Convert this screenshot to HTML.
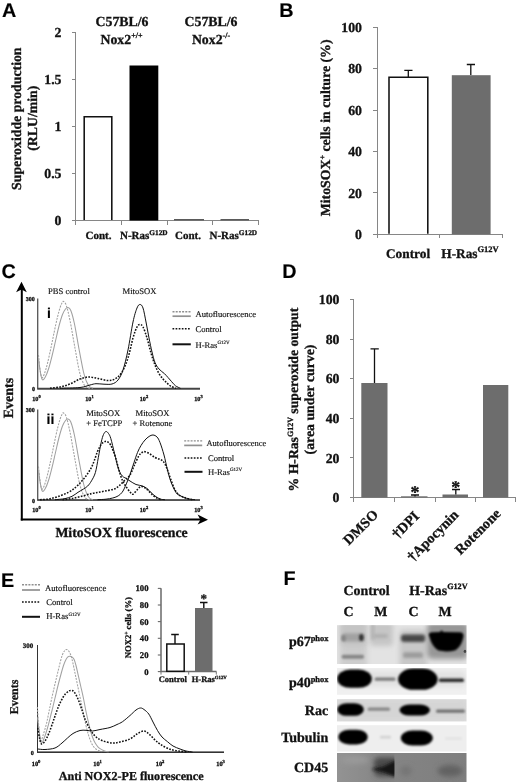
<!DOCTYPE html>
<html lang="en"><head><meta charset="utf-8"><title>Figure</title>
<style>
html,body{margin:0;padding:0;background:#fff;}
svg{display:block;filter:grayscale(1);will-change:transform;}
text{font-family:"Liberation Serif","Times New Roman",serif;fill:#111;text-rendering:geometricPrecision;stroke:#111;stroke-width:0.15px;}
.b{font-weight:bold;stroke:#111;stroke-width:0.3px;paint-order:stroke;}
.pl{font-family:"Liberation Sans",Arial,sans-serif;font-weight:bold;font-size:19.8px;fill:#000;}
.ax{stroke:#868686;stroke-width:1;fill:none;shape-rendering:crispEdges;}
.g{stroke:#a0a0a0;stroke-width:1.05;fill:none;}
.gd{stroke:#a0a0a0;stroke-width:1.05;fill:none;stroke-dasharray:2 1.2;}
.k{stroke:#111;stroke-width:1;fill:none;}
.kd{stroke:#111;stroke-width:1.55;fill:none;stroke-dasharray:1.7 1.4;}
</style></head><body>
<svg width="520" height="783" viewBox="0 0 520 783">
<defs>
<filter id="b1" x="-30%" y="-60%" width="160%" height="220%"><feGaussianBlur stdDeviation="1.1"/></filter>
<filter id="b2" x="-30%" y="-80%" width="160%" height="260%"><feGaussianBlur stdDeviation="1.8"/></filter>
<filter id="b3" x="-30%" y="-80%" width="160%" height="260%"><feGaussianBlur stdDeviation="2.6"/></filter>
<filter id="b09" x="-20%" y="-40%" width="140%" height="180%"><feGaussianBlur stdDeviation="0.9"/></filter>
<filter id="b15" x="-30%" y="-60%" width="160%" height="220%"><feGaussianBlur stdDeviation="1.5"/></filter>
<filter id="b05" x="-10%" y="-10%" width="120%" height="120%"><feGaussianBlur stdDeviation="0.5"/></filter>
</defs>
<rect x="0" y="0" width="520" height="783" fill="#fff"/>

<g id="panelA">
<text class="pl" x="1.9" y="16.9">A</text>
<path class="ax" d="M75.5,32.5 V220.5 H258.5"/>
<path class="ax" d="M71.5,220.5 H75.5"/>
<text class="b" x="61.5" y="225.1" font-size="13.8" text-anchor="end">0</text>
<path class="ax" d="M71.5,173.5 H75.5"/>
<text class="b" x="61.5" y="178.1" font-size="13.8" text-anchor="end">0.5</text>
<path class="ax" d="M71.5,126.5 H75.5"/>
<text class="b" x="61.5" y="131.1" font-size="13.8" text-anchor="end">1</text>
<path class="ax" d="M71.5,79.5 H75.5"/>
<text class="b" x="61.5" y="84.1" font-size="13.8" text-anchor="end">1.5</text>
<path class="ax" d="M71.5,32.5 H75.5"/>
<text class="b" x="61.5" y="37.1" font-size="13.8" text-anchor="end">2</text>
<path class="ax" d="M75.5,220.5 V224.5"/>
<path class="ax" d="M121.5,220.5 V224.5"/>
<path class="ax" d="M167,220.5 V224.5"/>
<path class="ax" d="M212.5,220.5 V224.5"/>
<path class="ax" d="M258.5,220.5 V224.5"/>
<path d="M84.2,220 V116.7 H111.8 V220" fill="#fff" stroke="#111" stroke-width="1.55"/>
<rect x="129.5" y="65.5" width="28.8" height="155" fill="#000"/>
<rect x="174" y="219" width="30" height="1.5" fill="#5a5a5a"/>
<rect x="220.5" y="219" width="28.5" height="1.5" fill="#5a5a5a"/>
<text class="b" x="122" y="26.3" font-size="13.8" text-anchor="middle">C57BL/6</text>
<text class="b" x="121.5" y="43.8" font-size="13.8" text-anchor="middle">Nox2<tspan font-size="8" dy="-5.5">+/+</tspan></text>
<text class="b" x="211" y="26.3" font-size="13.8" text-anchor="middle">C57BL/6</text>
<text class="b" x="211" y="43.8" font-size="13.8" text-anchor="middle">Nox2<tspan font-size="8" dy="-5.5">-/-</tspan></text>
<text class="b" font-size="11" x="85.5" y="239">Cont.</text>
<text class="b" font-size="11" x="120" y="239">N-Ras<tspan font-size="7.3" dy="-4.4">G12D</tspan></text>
<text class="b" font-size="11" x="175" y="239">Cont.</text>
<text class="b" font-size="11" x="209.5" y="239">N-Ras<tspan font-size="7.3" dy="-4.4">G12D</tspan></text>
<text class="b" font-size="13.8" text-anchor="middle" transform="translate(20.7,118.7) rotate(-90)">Superoxidde production</text>
<text class="b" font-size="13.8" text-anchor="middle" transform="translate(36.8,118.2) rotate(-90)">(RLU/min)</text>
</g>
<g id="panelB">
<text class="pl" x="279.3" y="16.8">B</text>
<path class="ax" d="M377,27 V234.3 H502.5"/>
<path class="ax" d="M373,234.3 H377"/>
<text class="b" x="362" y="238.9" font-size="13.8" text-anchor="end">0</text>
<path class="ax" d="M373,192.9 H377"/>
<text class="b" x="362" y="197.5" font-size="13.8" text-anchor="end">20</text>
<path class="ax" d="M373,151.4 H377"/>
<text class="b" x="362" y="156.0" font-size="13.8" text-anchor="end">40</text>
<path class="ax" d="M373,110.0 H377"/>
<text class="b" x="362" y="114.5" font-size="13.8" text-anchor="end">60</text>
<path class="ax" d="M373,68.5 H377"/>
<text class="b" x="362" y="73.1" font-size="13.8" text-anchor="end">80</text>
<path class="ax" d="M373,27.1 H377"/>
<text class="b" x="362" y="31.7" font-size="13.8" text-anchor="end">100</text>
<path class="ax" d="M377,234.3 V238.3"/>
<path class="ax" d="M439.5,234.3 V238.3"/>
<path class="ax" d="M502.5,234.3 V238.3"/>
<path d="M389,233.8 V77.2 H427.8 V233.8" fill="#fff" stroke="#111" stroke-width="1.55"/>
<path class="k" d="M408.3,77 V70.3 M404.3,70.3 H412.5" style="stroke-width:1.3"/>
<rect x="451.8" y="75.2" width="38.8" height="159.1" fill="#6d6d6d"/>
<path class="k" d="M470.8,75 V64.5 M466.8,64.5 H475" style="stroke-width:1.3"/>
<text class="b" font-size="13.3" x="386" y="257.6">Control</text>
<text class="b" font-size="13.3" x="441.3" y="257.6">H-Ras<tspan font-size="8.5" dy="-5.2">G12V</tspan></text>
<text class="b" font-size="13.8" text-anchor="middle" transform="translate(330.3,127.9) rotate(-90)">MitoSOX<tspan font-size="8" dy="-5">+</tspan><tspan dy="5"> cells in culture (%)</tspan></text>
</g>
<g id="panelC">
<text class="pl" x="1.4" y="278.2">C</text>
<path d="M21.8,520.5 V289" stroke="#000" stroke-width="2" fill="none"/>
<path d="M21.5,281.7 L26.8,292.2 L21.5,289.4 L16.1,292.2 Z" fill="#000"/>
<path d="M20.8,519.5 H201" stroke="#000" stroke-width="2.2" fill="none"/>
<path d="M208,519.7 L197.6,514.6 L200.4,519.7 L197.6,524.6 Z" fill="#000"/>
<text class="b" font-size="14" text-anchor="middle" transform="translate(12.9,398) rotate(-90)">Events</text>
<text class="b" font-size="13.75" x="55.4" y="536.9">MitoSOX fluorescence</text>
<path d="M37.7,298.5 V388.8 H200" stroke="#555" stroke-width="1.3" fill="none"/>
<path d="M37.5,388.6 H200" stroke="#444" stroke-width="1.6" fill="none"/>
<path class="g" d="M38.70,360.00 C38.92,361.67 39.42,366.75 40.00,370.00 C40.58,373.25 41.32,378.33 42.20,379.50 C43.08,380.67 44.25,378.75 45.30,377.00 C46.35,375.25 47.38,372.50 48.50,369.00 C49.62,365.50 50.83,360.67 52.00,356.00 C53.17,351.33 54.33,346.00 55.50,341.00 C56.67,336.00 57.83,330.42 59.00,326.00 C60.17,321.58 61.42,317.33 62.50,314.50 C63.58,311.67 64.62,310.17 65.50,309.00 C66.38,307.83 66.92,307.25 67.80,307.50 C68.68,307.75 69.68,307.75 70.80,310.50 C71.92,313.25 73.13,317.58 74.50,324.00 C75.87,330.42 77.50,341.00 79.00,349.00 C80.50,357.00 82.25,366.58 83.50,372.00 C84.75,377.42 85.50,379.08 86.50,381.50 C87.50,383.92 88.42,385.37 89.50,386.50 C90.58,387.63 92.42,388.00 93.00,388.30"/>
<path class="gd" d="M38.50,355.00 C38.70,357.00 39.17,363.25 39.70,367.00 C40.23,370.75 40.93,376.33 41.70,377.50 C42.47,378.67 43.37,376.25 44.30,374.00 C45.23,371.75 46.23,368.17 47.30,364.00 C48.37,359.83 49.58,354.17 50.70,349.00 C51.82,343.83 52.87,338.33 54.00,333.00 C55.13,327.67 56.45,321.33 57.50,317.00 C58.55,312.67 59.50,309.42 60.30,307.00 C61.10,304.58 61.75,303.42 62.30,302.50 C62.85,301.58 62.93,301.00 63.60,301.50 C64.27,302.00 65.23,302.33 66.30,305.50 C67.37,308.67 68.58,313.58 70.00,320.50 C71.42,327.42 73.25,338.58 74.80,347.00 C76.35,355.42 77.93,365.08 79.30,371.00 C80.67,376.92 81.88,379.83 83.00,382.50 C84.12,385.17 84.83,386.03 86.00,387.00 C87.17,387.97 89.33,388.08 90.00,388.30"/>
<path class="kd" d="M50.00,388.30 C51.67,388.08 56.67,387.72 60.00,387.00 C63.33,386.28 66.67,385.33 70.00,384.00 C73.33,382.67 76.88,380.17 80.00,379.00 C83.12,377.83 85.75,377.08 88.75,377.00 C91.75,376.92 94.88,377.92 98.00,378.50 C101.12,379.08 104.67,380.42 107.50,380.50 C110.33,380.58 112.58,380.42 115.00,379.00 C117.42,377.58 119.83,375.50 122.00,372.00 C124.17,368.50 126.17,363.67 128.00,358.00 C129.83,352.33 131.50,343.17 133.00,338.00 C134.50,332.83 135.83,329.25 137.00,327.00 C138.17,324.75 139.00,324.50 140.00,324.50 C141.00,324.50 141.83,324.75 143.00,327.00 C144.17,329.25 145.67,333.67 147.00,338.00 C148.33,342.33 149.67,348.50 151.00,353.00 C152.33,357.50 153.67,361.58 155.00,365.00 C156.33,368.42 157.67,371.17 159.00,373.50 C160.33,375.83 161.67,377.42 163.00,379.00 C164.33,380.58 165.67,381.78 167.00,383.00 C168.33,384.22 169.50,385.42 171.00,386.30 C172.50,387.18 175.17,387.97 176.00,388.30"/>
<path class="k" d="M60.00,388.30 C63.33,388.17 75.00,388.05 80.00,387.50 C85.00,386.95 87.33,385.63 90.00,385.00 C92.67,384.37 93.67,383.83 96.00,383.70 C98.33,383.57 101.33,384.15 104.00,384.20 C106.67,384.25 109.67,384.70 112.00,384.00 C114.33,383.30 116.17,382.33 118.00,380.00 C119.83,377.67 121.33,375.00 123.00,370.00 C124.67,365.00 126.33,358.00 128.00,350.00 C129.67,342.00 131.50,329.00 133.00,322.00 C134.50,315.00 135.83,310.92 137.00,308.00 C138.17,305.08 139.00,304.50 140.00,304.50 C141.00,304.50 142.00,305.08 143.00,308.00 C144.00,310.92 145.00,317.00 146.00,322.00 C147.00,327.00 148.00,333.00 149.00,338.00 C150.00,343.00 151.00,347.92 152.00,352.00 C153.00,356.08 153.83,359.67 155.00,362.50 C156.17,365.33 157.42,367.13 159.00,369.00 C160.58,370.87 163.00,372.28 164.50,373.70 C166.00,375.12 166.83,376.20 168.00,377.50 C169.17,378.80 170.25,380.12 171.50,381.50 C172.75,382.88 174.00,384.67 175.50,385.80 C177.00,386.93 179.67,387.88 180.50,388.30"/>
<text class="b" font-size="6" x="25.7" y="301">300</text>
<text class="b" font-size="6" x="32" y="391">0</text>
<text class="b" font-size="6.2" x="32.2" y="400.8">10<tspan font-size="4.5" dy="-2.6">0</tspan></text>
<text class="b" font-size="6.2" x="85.2" y="400.8">10<tspan font-size="4.5" dy="-2.6">1</tspan></text>
<text class="b" font-size="6.2" x="139.7" y="400.8">10<tspan font-size="4.5" dy="-2.6">2</tspan></text>
<text class="b" font-size="6.2" x="194.2" y="400.8">10<tspan font-size="4.5" dy="-2.6">3</tspan></text>
<text class="pl" style="font-size:14px" x="47" y="317.7">i</text>
<text font-size="8.6" x="48" y="293.8">PBS control</text>
<text font-size="8.6" x="122.5" y="293.8">MitoSOX</text>
<path class="gd" d="M172.5,311.7 H190.8" style="stroke:#8f8f8f;stroke-width:1.4"/>
<path class="g" d="M172.5,316.2 H190.8" style="stroke-width:1.7;stroke:#919191"/>
<path class="kd" d="M172.5,328.8 H190.8"/>
<path class="k" d="M172.5,344.3 H190.8" style="stroke-width:2"/>
<text font-size="8.6" x="195.5" y="316.5">Autofluorescence</text>
<text font-size="8.6" x="195.5" y="331.8">Control</text>
<text font-size="8.6" x="195.5" y="347.5">H-Ras<tspan font-size="5" dy="-3.6">G12V</tspan></text>
<path d="M37.7,409.5 V500.2 H200" stroke="#555" stroke-width="1.3" fill="none"/>
<path d="M37.5,500 H200" stroke="#444" stroke-width="1.6" fill="none"/>
<path class="g" d="M38.70,471.50 C38.92,473.17 39.42,478.25 40.00,481.50 C40.58,484.75 41.32,489.83 42.20,491.00 C43.08,492.17 44.25,490.25 45.30,488.50 C46.35,486.75 47.38,484.00 48.50,480.50 C49.62,477.00 50.83,472.17 52.00,467.50 C53.17,462.83 54.33,457.50 55.50,452.50 C56.67,447.50 57.83,441.92 59.00,437.50 C60.17,433.08 61.42,428.83 62.50,426.00 C63.58,423.17 64.62,421.67 65.50,420.50 C66.38,419.33 66.92,418.75 67.80,419.00 C68.68,419.25 69.68,419.25 70.80,422.00 C71.92,424.75 73.13,429.08 74.50,435.50 C75.87,441.92 77.50,452.50 79.00,460.50 C80.50,468.50 82.25,478.08 83.50,483.50 C84.75,488.92 85.50,490.58 86.50,493.00 C87.50,495.42 88.42,496.87 89.50,498.00 C90.58,499.13 92.42,499.50 93.00,499.80"/>
<path class="gd" d="M38.50,466.50 C38.70,468.50 39.17,474.75 39.70,478.50 C40.23,482.25 40.93,487.83 41.70,489.00 C42.47,490.17 43.37,487.75 44.30,485.50 C45.23,483.25 46.23,479.67 47.30,475.50 C48.37,471.33 49.58,465.67 50.70,460.50 C51.82,455.33 52.87,449.83 54.00,444.50 C55.13,439.17 56.45,432.83 57.50,428.50 C58.55,424.17 59.50,420.92 60.30,418.50 C61.10,416.08 61.75,414.92 62.30,414.00 C62.85,413.08 62.93,412.50 63.60,413.00 C64.27,413.50 65.23,413.83 66.30,417.00 C67.37,420.17 68.58,425.08 70.00,432.00 C71.42,438.92 73.25,450.08 74.80,458.50 C76.35,466.92 77.93,476.58 79.30,482.50 C80.67,488.42 81.88,491.33 83.00,494.00 C84.12,496.67 84.83,497.53 86.00,498.50 C87.17,499.47 89.33,499.58 90.00,499.80"/>
<path class="kd" d="M40.00,499.70 C41.50,499.58 46.00,499.53 49.00,499.00 C52.00,498.47 54.75,497.62 58.00,496.50 C61.25,495.38 65.50,493.88 68.50,492.30 C71.50,490.72 73.75,488.92 76.00,487.00 C78.25,485.08 80.17,482.88 82.00,480.80 C83.83,478.72 85.42,476.75 87.00,474.50 C88.58,472.25 90.25,469.72 91.50,467.30 C92.75,464.88 93.53,462.55 94.50,460.00 C95.47,457.45 96.38,454.25 97.30,452.00 C98.22,449.75 99.13,448.00 100.00,446.50 C100.87,445.00 101.50,443.87 102.50,443.00 C103.50,442.13 105.00,441.38 106.00,441.30 C107.00,441.22 107.70,441.85 108.50,442.50 C109.30,443.15 110.05,443.87 110.80,445.20 C111.55,446.53 112.20,448.42 113.00,450.50 C113.80,452.58 114.77,455.03 115.60,457.70 C116.43,460.37 117.20,463.62 118.00,466.50 C118.80,469.38 119.57,472.50 120.40,475.00 C121.23,477.50 122.07,479.58 123.00,481.50 C123.93,483.42 124.83,484.75 126.00,486.50 C127.17,488.25 128.83,490.72 130.00,492.00 C131.17,493.28 131.83,494.53 133.00,494.20 C134.17,493.87 135.67,491.28 137.00,490.00 C138.33,488.72 139.50,486.75 141.00,486.50 C142.50,486.25 144.08,487.08 146.00,488.50 C147.92,489.92 150.67,493.42 152.50,495.00 C154.33,496.58 155.58,497.22 157.00,498.00 C158.42,498.78 160.33,499.42 161.00,499.70"/>
<path class="k" d="M55.00,499.70 C56.67,499.52 62.17,499.17 65.00,498.60 C67.83,498.03 69.83,497.35 72.00,496.30 C74.17,495.25 76.08,493.52 78.00,492.30 C79.92,491.08 81.88,490.05 83.50,489.00 C85.12,487.95 86.37,487.37 87.70,486.00 C89.03,484.63 90.22,483.05 91.50,480.80 C92.78,478.55 94.27,476.35 95.40,472.50 C96.53,468.65 97.33,462.73 98.30,457.70 C99.27,452.67 100.33,446.17 101.20,442.30 C102.07,438.43 102.70,436.30 103.50,434.50 C104.30,432.70 105.17,431.67 106.00,431.50 C106.83,431.33 107.70,432.33 108.50,433.50 C109.30,434.67 109.78,435.12 110.80,438.50 C111.82,441.88 113.32,448.72 114.60,453.80 C115.88,458.88 117.22,465.30 118.50,469.00 C119.78,472.70 121.05,474.45 122.30,476.00 C123.55,477.55 124.72,477.47 126.00,478.30 C127.28,479.13 128.33,479.97 130.00,481.00 C131.67,482.03 133.92,483.67 136.00,484.50 C138.08,485.33 140.67,485.33 142.50,486.00 C144.33,486.67 145.58,487.42 147.00,488.50 C148.42,489.58 149.67,491.25 151.00,492.50 C152.33,493.75 153.50,494.92 155.00,496.00 C156.50,497.08 158.33,498.38 160.00,499.00 C161.67,499.62 164.17,499.58 165.00,499.70"/>
<path class="kd" d="M62.50,499.70 C64.08,499.50 68.67,499.12 72.00,498.50 C75.33,497.88 79.17,496.83 82.50,496.00 C85.83,495.17 89.08,494.17 92.00,493.50 C94.92,492.83 97.33,492.50 100.00,492.00 C102.67,491.50 105.50,491.05 108.00,490.50 C110.50,489.95 113.00,489.62 115.00,488.70 C117.00,487.78 118.33,486.45 120.00,485.00 C121.67,483.55 123.33,481.67 125.00,480.00 C126.67,478.33 128.50,477.33 130.00,475.00 C131.50,472.67 132.54,469.17 134.00,466.00 C135.46,462.83 137.42,458.25 138.75,456.00 C140.08,453.75 140.96,453.22 142.00,452.50 C143.04,451.78 143.67,451.45 145.00,451.70 C146.33,451.95 148.33,453.03 150.00,454.00 C151.67,454.97 153.50,456.67 155.00,457.50 C156.50,458.33 157.75,458.47 159.00,459.00 C160.25,459.53 161.50,459.87 162.50,460.70 C163.50,461.53 164.17,462.45 165.00,464.00 C165.83,465.55 166.50,467.33 167.50,470.00 C168.50,472.67 169.75,476.67 171.00,480.00 C172.25,483.33 173.67,487.50 175.00,490.00 C176.33,492.50 177.75,493.88 179.00,495.00 C180.25,496.12 181.17,496.12 182.50,496.70 C183.83,497.28 185.33,498.00 187.00,498.50 C188.67,499.00 191.58,499.50 192.50,499.70"/>
<path class="k" d="M97.50,499.70 C98.92,499.62 103.47,499.48 106.00,499.20 C108.53,498.92 110.87,498.45 112.70,498.00 C114.53,497.55 115.72,497.13 117.00,496.50 C118.28,495.87 119.40,495.12 120.40,494.20 C121.40,493.28 122.20,492.28 123.00,491.00 C123.80,489.72 124.45,488.17 125.20,486.50 C125.95,484.83 126.70,483.00 127.50,481.00 C128.30,479.00 128.92,477.58 130.00,474.50 C131.08,471.42 132.75,466.17 134.00,462.50 C135.25,458.83 136.33,455.33 137.50,452.50 C138.67,449.67 139.75,447.58 141.00,445.50 C142.25,443.42 143.67,441.50 145.00,440.00 C146.33,438.50 147.67,437.33 149.00,436.50 C150.33,435.67 151.67,434.92 153.00,435.00 C154.33,435.08 155.83,435.75 157.00,437.00 C158.17,438.25 158.83,439.50 160.00,442.50 C161.17,445.50 162.75,450.42 164.00,455.00 C165.25,459.58 166.33,465.50 167.50,470.00 C168.67,474.50 169.58,478.25 171.00,482.00 C172.42,485.75 174.50,490.25 176.00,492.50 C177.50,494.75 178.67,494.67 180.00,495.50 C181.33,496.33 182.50,496.92 184.00,497.50 C185.50,498.08 187.17,498.63 189.00,499.00 C190.83,499.37 194.00,499.58 195.00,499.70"/>
<text class="b" font-size="6" x="25.7" y="412">300</text>
<text class="b" font-size="6" x="32" y="502.6">0</text>
<text class="b" font-size="6.2" x="32.2" y="511.8">10<tspan font-size="4.5" dy="-2.6">0</tspan></text>
<text class="b" font-size="6.2" x="85.2" y="511.8">10<tspan font-size="4.5" dy="-2.6">1</tspan></text>
<text class="b" font-size="6.2" x="139.7" y="511.8">10<tspan font-size="4.5" dy="-2.6">2</tspan></text>
<text class="b" font-size="6.2" x="194.2" y="511.8">10<tspan font-size="4.5" dy="-2.6">3</tspan></text>
<text class="pl" style="font-size:14px" x="46.6" y="423.8">ii</text>
<text font-size="8.6" x="86.2" y="416.3">MitoSOX</text>
<text font-size="8.6" x="86.2" y="425.8">+ FeTCPP</text>
<text font-size="8.6" x="135.5" y="416.3">MitoSOX</text>
<text font-size="8.6" x="132.5" y="425.8">+ Rotenone</text>
<path class="gd" d="M184.2,440.9 H202.2" style="stroke:#8f8f8f;stroke-width:1.4"/>
<path class="g" d="M184.2,445.4 H202.2" style="stroke-width:1.7;stroke:#919191"/>
<path class="kd" d="M184.5,458 H202.5"/>
<path class="k" d="M184.5,471.8 H202.5" style="stroke-width:2"/>
<text font-size="8.5" x="206.4" y="445.8">Autofluorescence</text>
<text font-size="8.6" x="208" y="460.8">Control</text>
<text font-size="8.6" x="208" y="474.5">H-Ras<tspan font-size="5" dy="-3.6">G12V</tspan></text>
</g>
<g id="panelD">
<text class="pl" x="282.3" y="278.1">D</text>
<path class="ax" d="M353.5,299.5 V497.5 H515.5"/>
<path class="ax" d="M349.5,497.5 H353.5"/>
<text class="b" x="339.5" y="502.1" font-size="13.8" text-anchor="end">0</text>
<path class="ax" d="M349.5,457.9 H353.5"/>
<text class="b" x="339.5" y="462.5" font-size="13.8" text-anchor="end">20</text>
<path class="ax" d="M349.5,418.3 H353.5"/>
<text class="b" x="339.5" y="422.9" font-size="13.8" text-anchor="end">40</text>
<path class="ax" d="M349.5,378.7 H353.5"/>
<text class="b" x="339.5" y="383.3" font-size="13.8" text-anchor="end">60</text>
<path class="ax" d="M349.5,339.1 H353.5"/>
<text class="b" x="339.5" y="343.7" font-size="13.8" text-anchor="end">80</text>
<path class="ax" d="M349.5,299.5 H353.5"/>
<text class="b" x="339.5" y="304.1" font-size="13.8" text-anchor="end">100</text>
<path class="ax" d="M353.5,497.5 V501.5"/>
<path class="ax" d="M394.5,497.5 V501.5"/>
<path class="ax" d="M435,497.5 V501.5"/>
<path class="ax" d="M475.5,497.5 V501.5"/>
<path class="ax" d="M515.5,497.5 V501.5"/>
<rect x="361.3" y="383" width="26.2" height="114.5" fill="#6d6d6d"/>
<path class="k" d="M374.5,383 V348.8 M370.5,348.8 H378.8" style="stroke-width:1.3"/>
<rect x="401" y="496.3" width="26.5" height="1.2" fill="#6d6d6d"/>
<path class="k" d="M415,496.5 V495 M411,495 H419" style="stroke-width:1.3"/>
<rect x="442.5" y="494.5" width="25.5" height="3" fill="#6d6d6d"/>
<path class="k" d="M455.8,494.5 V489.5 M452,489.5 H460" style="stroke-width:1.3"/>
<rect x="483" y="385" width="25.3" height="112.5" fill="#6d6d6d"/>
<text class="b" font-size="18" x="415" y="498" text-anchor="middle">*</text>
<text class="b" font-size="18" x="455.8" y="493" text-anchor="middle">*</text>
<text class="b" font-size="14.3" text-anchor="end" transform="translate(379,515.5) rotate(-45)">DMSO</text>
<text class="b" font-size="14.3" text-anchor="end" transform="translate(420,517) rotate(-45)">†DPI</text>
<text class="b" font-size="14.3" text-anchor="end" transform="translate(459.5,515.7) rotate(-45)">†Apocynin</text>
<text class="b" font-size="14.3" text-anchor="end" transform="translate(501.5,514.5) rotate(-45)">Rotenone</text>
<text class="b" font-size="13.7" text-anchor="middle" transform="translate(297.7,399.6) rotate(-90)">% H-Ras<tspan font-size="8" dy="-5">G12V</tspan><tspan dy="5"> superoxide output</tspan></text>
<text class="b" font-size="13.8" text-anchor="middle" transform="translate(313.6,399.5) rotate(-90)">(area under curve)</text>
</g>
<g id="panelE">
<text class="pl" x="1.0" y="586.5">E</text>
<path class="gd" d="M22,584.8 H40" style="stroke:#8f8f8f;stroke-width:1.4"/>
<path class="g" d="M22,590 H40" style="stroke-width:1.7;stroke:#919191"/>
<path class="kd" d="M22,602 H40"/>
<path class="k" d="M22,616.8 H40" style="stroke-width:2"/>
<text font-size="8.7" x="45" y="590.5">Autofluorescence</text>
<text font-size="8.7" x="46.2" y="605">Control</text>
<text font-size="8.7" x="46.2" y="619.3">H-Ras<tspan font-size="5" dy="-3.6">G12V</tspan></text>
<path d="M37.5,645 V752.3 H224" stroke="#333" stroke-width="1" fill="none"/>
<path d="M37,752.2 H224" stroke="#333" stroke-width="1.5" fill="none"/>
<path class="g" d="M37.60,717.50 C37.87,719.75 38.60,726.77 39.20,731.00 C39.80,735.23 40.40,741.65 41.20,742.90 C42.00,744.15 42.95,740.98 44.00,738.50 C45.05,736.02 46.33,732.00 47.50,728.00 C48.67,724.00 49.77,719.42 51.00,714.50 C52.23,709.58 53.73,703.33 54.90,698.50 C56.07,693.67 56.93,689.75 58.00,685.50 C59.07,681.25 60.38,676.33 61.30,673.00 C62.22,669.67 62.80,667.60 63.50,665.50 C64.20,663.40 64.82,661.78 65.50,660.40 C66.18,659.02 66.90,657.90 67.60,657.20 C68.30,656.50 68.97,656.23 69.70,656.20 C70.43,656.17 71.28,656.48 72.00,657.00 C72.72,657.52 73.33,657.88 74.00,659.30 C74.67,660.72 75.30,662.85 76.00,665.50 C76.70,668.15 77.40,671.70 78.20,675.20 C79.00,678.70 79.92,682.62 80.80,686.50 C81.68,690.38 82.63,694.33 83.50,698.50 C84.37,702.67 85.12,707.27 86.00,711.50 C86.88,715.73 87.92,720.23 88.80,723.90 C89.68,727.57 90.43,730.68 91.30,733.50 C92.17,736.32 93.13,738.88 94.00,740.80 C94.87,742.72 95.62,743.77 96.50,745.00 C97.38,746.23 97.95,747.20 99.30,748.20 C100.65,749.20 103.02,750.40 104.60,751.00 C106.18,751.60 108.10,751.67 108.80,751.80" style="stroke:#a2a2a2;stroke-width:1.05"/>
<path class="gd" d="M37.40,707.00 C37.63,710.33 38.28,721.20 38.80,727.00 C39.32,732.80 39.80,740.38 40.50,741.80 C41.20,743.22 42.02,738.48 43.00,735.50 C43.98,732.52 45.40,727.90 46.40,723.90 C47.40,719.90 48.12,715.73 49.00,711.50 C49.88,707.27 50.70,703.08 51.70,698.50 C52.70,693.92 53.93,688.58 55.00,684.00 C56.07,679.42 57.22,674.67 58.10,671.00 C58.98,667.33 59.60,664.65 60.30,662.00 C61.00,659.35 61.62,656.93 62.30,655.10 C62.98,653.27 63.70,651.95 64.40,651.00 C65.10,650.05 65.78,649.40 66.50,649.40 C67.22,649.40 67.98,650.05 68.70,651.00 C69.42,651.95 70.12,653.18 70.80,655.10 C71.48,657.02 72.10,659.50 72.80,662.50 C73.50,665.50 74.20,669.27 75.00,673.10 C75.80,676.93 76.72,681.27 77.60,685.50 C78.48,689.73 79.40,694.17 80.30,698.50 C81.20,702.83 82.12,707.27 83.00,711.50 C83.88,715.73 84.73,720.15 85.60,723.90 C86.47,727.65 87.32,731.02 88.20,734.00 C89.08,736.98 90.02,739.72 90.90,741.80 C91.78,743.88 92.62,745.27 93.50,746.50 C94.38,747.73 94.88,748.32 96.20,749.20 C97.52,750.08 100.53,751.37 101.40,751.80" style="stroke:#a2a2a2;stroke-width:1.05"/>
<path class="kd" d="M37.70,728.00 C38.00,729.67 38.87,735.33 39.50,738.00 C40.13,740.67 40.58,743.50 41.50,744.00 C42.42,744.50 43.75,742.83 45.00,741.00 C46.25,739.17 47.53,736.57 49.00,733.00 C50.47,729.43 52.22,724.02 53.80,719.60 C55.38,715.18 56.88,710.35 58.50,706.50 C60.12,702.65 62.00,698.92 63.50,696.50 C65.00,694.08 66.28,693.02 67.50,692.00 C68.72,690.98 69.72,690.43 70.80,690.40 C71.88,690.37 72.80,690.37 74.00,691.80 C75.20,693.23 76.67,695.97 78.00,699.00 C79.33,702.03 80.80,706.57 82.00,710.00 C83.20,713.43 83.87,716.43 85.20,719.60 C86.53,722.77 88.37,726.27 90.00,729.00 C91.63,731.73 93.00,734.08 95.00,736.00 C97.00,737.92 99.08,739.33 102.00,740.50 C104.92,741.67 109.50,742.75 112.50,743.00 C115.50,743.25 117.08,742.67 120.00,742.00 C122.92,741.33 127.17,740.33 130.00,739.00 C132.83,737.67 134.71,735.33 137.00,734.00 C139.29,732.67 141.75,731.00 143.75,731.00 C145.75,731.00 147.12,732.50 149.00,734.00 C150.88,735.50 153.17,738.33 155.00,740.00 C156.83,741.67 158.00,742.67 160.00,744.00 C162.00,745.33 164.50,746.92 167.00,748.00 C169.50,749.08 171.58,749.83 175.00,750.50 C178.42,751.17 185.42,751.75 187.50,752.00"/>
<path class="k" d="M37.70,749.00 C38.92,749.08 42.12,749.67 45.00,749.50 C47.88,749.33 52.17,749.08 55.00,748.00 C57.83,746.92 59.92,744.67 62.00,743.00 C64.08,741.33 65.67,739.58 67.50,738.00 C69.33,736.42 70.92,734.75 73.00,733.50 C75.08,732.25 77.83,731.03 80.00,730.50 C82.17,729.97 83.92,730.22 86.00,730.30 C88.08,730.38 90.17,731.13 92.50,731.00 C94.83,730.87 97.08,730.08 100.00,729.50 C102.92,728.92 107.17,728.33 110.00,727.50 C112.83,726.67 114.92,725.47 117.00,724.50 C119.08,723.53 120.33,723.20 122.50,721.70 C124.67,720.20 127.75,717.45 130.00,715.50 C132.25,713.55 134.25,711.25 136.00,710.00 C137.75,708.75 139.17,708.08 140.50,708.00 C141.83,707.92 142.62,708.50 144.00,709.50 C145.38,710.50 147.25,711.92 148.75,714.00 C150.25,716.08 151.54,719.25 153.00,722.00 C154.46,724.75 156.00,728.00 157.50,730.50 C159.00,733.00 160.33,735.13 162.00,737.00 C163.67,738.87 165.67,740.20 167.50,741.70 C169.33,743.20 170.92,744.78 173.00,746.00 C175.08,747.22 177.83,748.17 180.00,749.00 C182.17,749.83 183.92,750.50 186.00,751.00 C188.08,751.50 191.42,751.83 192.50,752.00"/>
<text class="b" font-size="6.9" x="22.8" y="648">300</text>
<text class="b" font-size="6.2" x="30.8" y="754.5">0</text>
<text class="b" font-size="6.4" x="31.7" y="765.5">10<tspan font-size="4.6" dy="-2.7">0</tspan></text>
<text class="b" font-size="6.4" x="93.2" y="765.5">10<tspan font-size="4.6" dy="-2.7">1</tspan></text>
<text class="b" font-size="6.4" x="155.7" y="765.5">10<tspan font-size="4.6" dy="-2.7">2</tspan></text>
<text class="b" font-size="6.4" x="216.2" y="765.5">10<tspan font-size="4.6" dy="-2.7">3</tspan></text>
<text class="b" font-size="12" text-anchor="middle" transform="translate(18,697) rotate(-90)">Events</text>
<text class="b" font-size="12.1" x="58.7" y="780">Anti NOX2-PE fluorescence</text>
<path d="M161,588.3 V671.6 H216.5" stroke="#6a6a6a" stroke-width="1.5" fill="none"/>
<path d="M157.8,671.6 H161" stroke="#6a6a6a" stroke-width="1.1"/>
<text class="b" x="148.5" y="674.5" font-size="8.7" text-anchor="end">0</text>
<path d="M157.8,655.0 H161" stroke="#6a6a6a" stroke-width="1.1"/>
<text class="b" x="148.5" y="657.9" font-size="8.7" text-anchor="end">20</text>
<path d="M157.8,638.3 H161" stroke="#6a6a6a" stroke-width="1.1"/>
<text class="b" x="148.5" y="641.2" font-size="8.7" text-anchor="end">40</text>
<path d="M157.8,621.6 H161" stroke="#6a6a6a" stroke-width="1.1"/>
<text class="b" x="148.5" y="624.5" font-size="8.7" text-anchor="end">60</text>
<path d="M157.8,605.0 H161" stroke="#6a6a6a" stroke-width="1.1"/>
<text class="b" x="148.5" y="607.9" font-size="8.7" text-anchor="end">80</text>
<path d="M157.8,588.4 H161" stroke="#6a6a6a" stroke-width="1.1"/>
<text class="b" x="148.5" y="591.2" font-size="8.7" text-anchor="end">100</text>
<path d="M161,671.6 V674.6" stroke="#777" stroke-width="1"/>
<path d="M188.7,671.6 V674.6" stroke="#777" stroke-width="1"/>
<path d="M216.3,671.6 V674.6" stroke="#777" stroke-width="1"/>
<rect x="166.8" y="644" width="17.4" height="27.3" fill="#fff" stroke="#111" stroke-width="1.5"/>
<path class="k" d="M175,644 V634.5 M171.2,634.5 H178.8" style="stroke-width:1.4"/>
<rect x="195" y="608" width="17.5" height="63.3" fill="#6d6d6d"/>
<path class="k" d="M203.8,608 V602.5 M200,602.5 H207.5" style="stroke-width:1.4"/>
<text class="b" font-size="13" x="203.8" y="602.8" text-anchor="middle">*</text>
<text class="b" font-size="8.5" x="158.7" y="682.3">Control</text>
<text class="b" font-size="8.5" x="191.7" y="682.3">H-Ras<tspan font-size="4.8" dy="-3.3">G12V</tspan></text>
<text class="b" font-size="8.65" text-anchor="middle" transform="translate(130.8,627.7) rotate(-90)">NOX2<tspan font-size="5.6" dy="-3.3">+</tspan><tspan dy="3.3"> cells (%)</tspan></text>
</g>
<g id="panelF">
<text class="pl" x="283.5" y="585.2">F</text>
<text class="b" font-size="13.9" x="343.5" y="595">Control</text>
<text class="b" font-size="13.9" x="409.3" y="595">H-Ras<tspan font-size="8.2" dy="-5.7">G12V</tspan></text>
<text class="b" font-size="13.9" x="343.5" y="615.8">C</text>
<text class="b" font-size="13.9" x="374.3" y="615.8">M</text>
<text class="b" font-size="13.9" x="408.5" y="615.8">C</text>
<text class="b" font-size="13.9" x="438.5" y="615.8">M</text>
<text class="b" font-size="14" x="328.4" y="646.3" text-anchor="end">p67<tspan font-size="8.4" dy="-5.8">phox</tspan></text>
<text class="b" font-size="14" x="328.4" y="687.3" text-anchor="end">p40<tspan font-size="8.4" dy="-5.8">phox</tspan></text>
<text class="b" font-size="14" x="328.2" y="715" text-anchor="end">Rac</text>
<text class="b" font-size="14" x="328.2" y="741.8" text-anchor="end">Tubulin</text>
<text class="b" font-size="14" x="328.2" y="771.8" text-anchor="end">CD45</text>
<linearGradient id="cdg" x1="0" x2="1" y1="0" y2="0"><stop offset="0" stop-color="#939393"/><stop offset="0.35" stop-color="#858585"/><stop offset="1" stop-color="#7e7e7e"/></linearGradient>
<clipPath id="cp0"><rect x="337" y="625.2" width="129.5" height="38.8"/></clipPath>
<rect x="337" y="625.2" width="129.5" height="38.8" fill="#e3e3e3"/>
<clipPath id="cp1"><rect x="337" y="668" width="129.5" height="26.8"/></clipPath>
<rect x="337" y="668" width="129.5" height="26.8" fill="#f0f0f0"/>
<clipPath id="cp2"><rect x="337" y="699.2" width="129.5" height="22.2"/></clipPath>
<rect x="337" y="699.2" width="129.5" height="22.2" fill="#dcdcdc"/>
<clipPath id="cp3"><rect x="337" y="725.2" width="129.5" height="26.3"/></clipPath>
<rect x="337" y="725.2" width="129.5" height="26.3" fill="#eeeeee"/>
<clipPath id="cp4"><rect x="337" y="753" width="129.5" height="29.0"/></clipPath>
<rect x="337" y="753" width="129.5" height="29.0" fill="url(#cdg)"/>
<g clip-path="url(#cp0)"><rect x="340" y="620" width="27.0" height="50.0" rx="3.0" ry="3.0" fill="#cdcdcd" opacity="1" filter="url(#b3)"/></g>
<g clip-path="url(#cp0)"><rect x="341" y="622" width="25.0" height="24.0" rx="3.0" ry="3.0" fill="#c4c4c4" opacity="1" filter="url(#b3)"/></g>
<g clip-path="url(#cp0)"><rect x="342" y="633.3" width="23.0" height="8.3" rx="3.0" ry="3.0" fill="#a2a2a2" opacity="1" filter="url(#b2)"/></g>
<g clip-path="url(#cp0)"><ellipse cx="361.3" cy="637.4" rx="2.3" ry="3.5" fill="#333" opacity="1" filter="url(#b1)"/></g>
<g clip-path="url(#cp0)"><ellipse cx="343.6" cy="638.3" rx="2.2" ry="3.2" fill="#858585" opacity="1" filter="url(#b1)"/></g>
<g clip-path="url(#cp0)"><rect x="341.6" y="654.8" width="22.4" height="4.0" rx="1.8" ry="1.8" fill="#868686" opacity="1" filter="url(#b1)"/></g>
<g clip-path="url(#cp0)"><rect x="370" y="622" width="23.0" height="24.0" rx="4.0" ry="4.0" fill="#c6c6c6" opacity="1" filter="url(#b3)"/></g>
<g clip-path="url(#cp0)"><rect x="371" y="622" width="3.5" height="18.0" rx="1.5" ry="1.5" fill="#b4b4b4" opacity="1" filter="url(#b2)"/></g>
<g clip-path="url(#cp0)"><rect x="373" y="634" width="15.0" height="4.0" rx="2.0" ry="2.0" fill="#b0b0b0" opacity="1" filter="url(#b2)"/></g>
<g clip-path="url(#cp0)"><rect x="399.5" y="630" width="27.5" height="40.0" rx="4.0" ry="4.0" fill="#c8c8c8" opacity="1" filter="url(#b3)"/></g>
<g clip-path="url(#cp0)"><rect x="401" y="634.6" width="24.5" height="7.4" rx="3.0" ry="3.0" fill="#474747" opacity="1" filter="url(#b15)"/></g>
<g clip-path="url(#cp0)"><rect x="403" y="652.3" width="20.0" height="5.7" rx="2.0" ry="2.0" fill="#9c9c9c" opacity="1" filter="url(#b2)"/></g>
<g clip-path="url(#cp0)"><rect x="427" y="622" width="41.0" height="37.0" rx="5.0" ry="5.0" fill="#979797" opacity="1" filter="url(#b3)"/></g>
<g clip-path="url(#cp0)"><path d="M428.8,635 Q428.6,632 433,632.2 L439.8,632.1 L441.6,630.2 L443.4,632.1 L459.5,632.3 Q463.8,632.2 463.5,636.5 L462.3,641 Q460.3,647 455.5,650.2 Q447,652.4 438.5,650.6 Q433.8,647.8 431,641.5 Z" fill="#030303" filter="url(#b09)"/></g>
<g clip-path="url(#cp0)"><ellipse cx="465" cy="651.3" rx="1.3" ry="1.6" fill="#444" opacity="1" filter="url(#b05)"/></g>
<g clip-path="url(#cp1)"><rect x="337" y="671" width="129.0" height="16.0" rx="6.0" ry="6.0" fill="#e2e2e2" opacity="1" filter="url(#b3)"/></g>
<g clip-path="url(#cp1)"><rect x="337.2" y="669.6" width="34.6" height="18.2" rx="13.0" ry="9.1" fill="#000" opacity="1" filter="url(#b09)"/></g>
<g clip-path="url(#cp1)"><rect x="374.6" y="677.6" width="20.9" height="3.2" rx="1.5" ry="1.5" fill="#7c7c7c" opacity="1" filter="url(#b1)"/></g>
<g clip-path="url(#cp1)"><rect x="398.1" y="668.6" width="39.5" height="21.2" rx="15.0" ry="10.6" fill="#000" opacity="1" filter="url(#b09)"/></g>
<g clip-path="url(#cp1)"><rect x="438.8" y="678.4" width="25.2" height="3.6" rx="1.6" ry="1.6" fill="#2a2a2a" opacity="1" filter="url(#b1)"/></g>
<g clip-path="url(#cp2)"><rect x="337" y="700" width="129.0" height="20.0" rx="5.0" ry="5.0" fill="#d0d0d0" opacity="0.6" filter="url(#b3)"/></g>
<g clip-path="url(#cp2)"><rect x="337.2" y="703.2" width="26.6" height="12.6" rx="9.5" ry="6.3" fill="#000" opacity="1" filter="url(#b09)"/></g>
<g clip-path="url(#cp2)"><rect x="367.6" y="707.4" width="22.4" height="3.4" rx="1.6" ry="1.6" fill="#868686" opacity="1" filter="url(#b1)"/></g>
<g clip-path="url(#cp2)"><rect x="399.5" y="704.6" width="30.5" height="11.0" rx="10.0" ry="5.5" fill="#000" opacity="1" filter="url(#b09)"/></g>
<g clip-path="url(#cp2)"><rect x="436" y="709.4" width="29.0" height="3.4" rx="1.6" ry="1.6" fill="#707070" opacity="1" filter="url(#b1)"/></g>
<g clip-path="url(#cp3)"><rect x="338.2" y="729.7" width="29.6" height="14.7" rx="11.0" ry="7.3" fill="#000" opacity="1" filter="url(#b09)"/></g>
<g clip-path="url(#cp3)"><rect x="380" y="735.8" width="11.0" height="2.8" rx="1.2" ry="1.2" fill="#d2d2d2" opacity="1" filter="url(#b1)"/></g>
<g clip-path="url(#cp3)"><rect x="400.8" y="730.5" width="32.0" height="14.9" rx="11.5" ry="7.4" fill="#000" opacity="1" filter="url(#b09)"/></g>
<g clip-path="url(#cp3)"><rect x="445" y="737.4" width="17.0" height="2.0" rx="1.0" ry="1.0" fill="#e0e0e0" opacity="1" filter="url(#b1)"/></g>
<clipPath id="cp4b"><rect x="337" y="753" width="57.4" height="29"/></clipPath>
<g clip-path="url(#cp4b)"><rect x="374" y="757.5" width="24" height="19" rx="5" fill="#4a4a4a" filter="url(#b3)"/></g>
<g clip-path="url(#cp4b)"><path d="M371,769.3 L383,766.5 L396,760 L396,777 L383,772.3 Z" fill="#181818" filter="url(#b15)"/></g>
<g clip-path="url(#cp4)"><ellipse cx="406" cy="771" rx="6" ry="5" fill="#767676" opacity="1" filter="url(#b3)"/></g>
<g clip-path="url(#cp4)"><ellipse cx="450" cy="770.8" rx="12.5" ry="5.8" fill="#626262" opacity="1" filter="url(#b3)"/></g>
<g clip-path="url(#cp4)"><ellipse cx="355" cy="760" rx="14" ry="4" fill="#9a9a9a" opacity="1" filter="url(#b3)"/></g>
</g>
</svg>
</body></html>
